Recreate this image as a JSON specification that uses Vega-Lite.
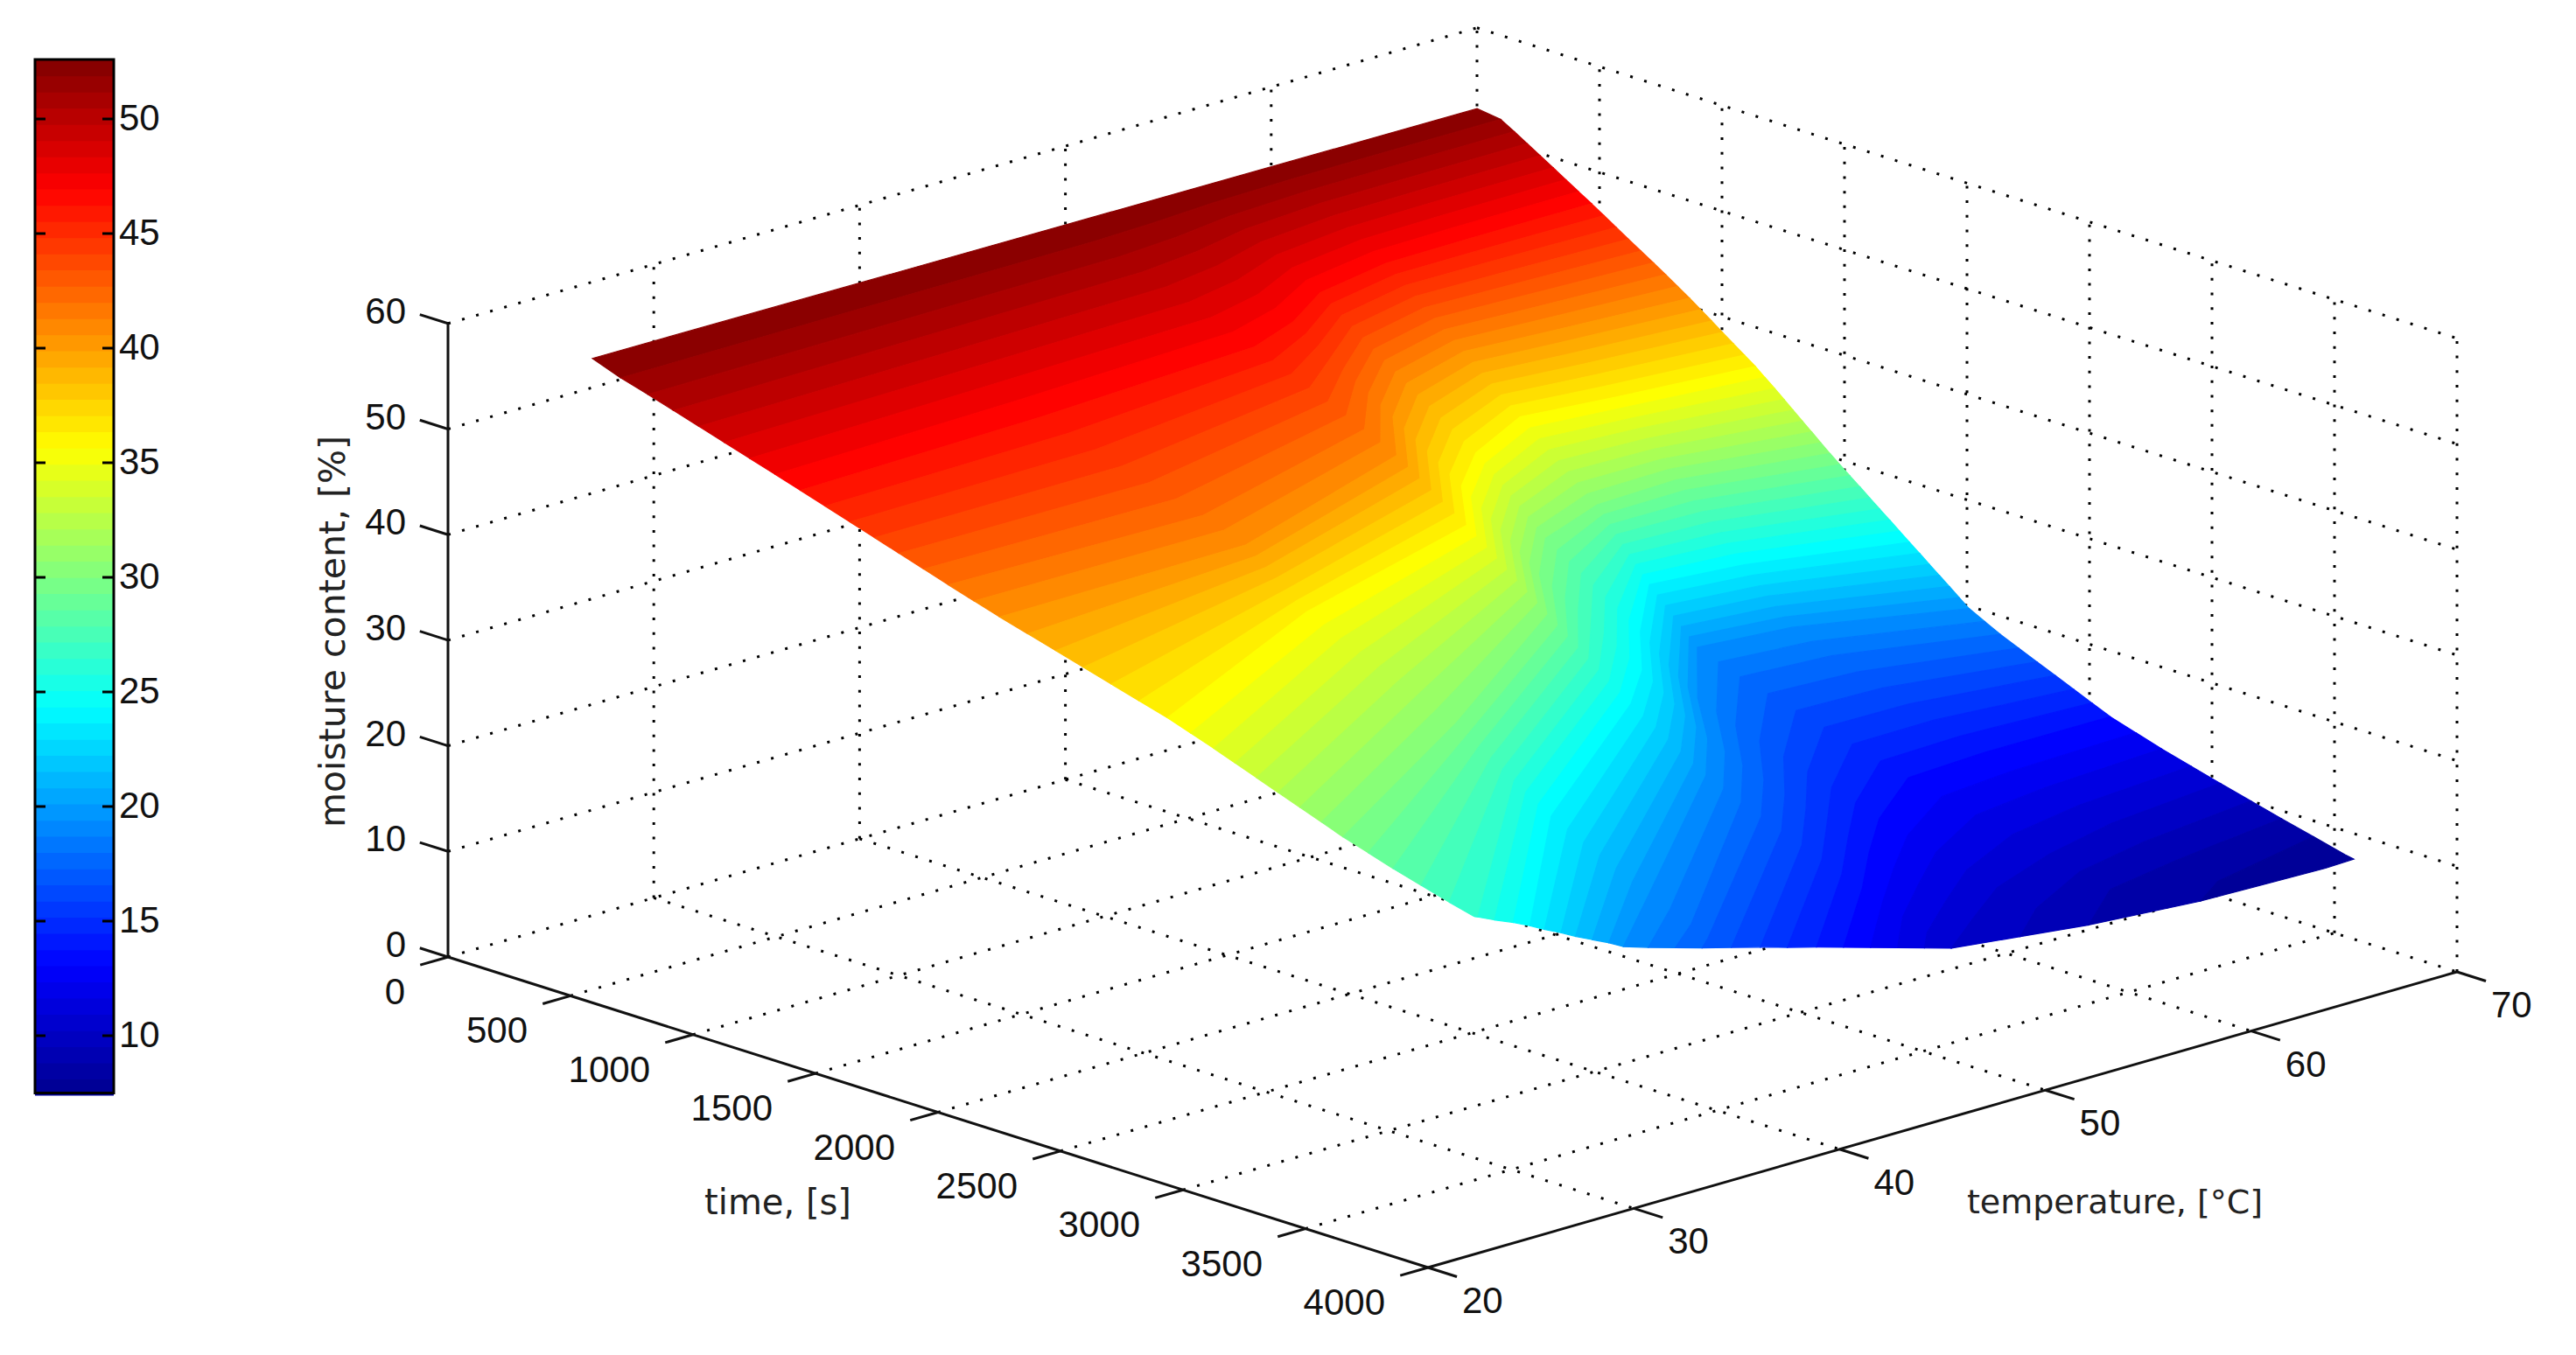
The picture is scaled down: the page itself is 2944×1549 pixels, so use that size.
{
"$schema":"https://vega.github.io/schema/vega-lite/v6.json",
"autosize":{"type":"fit","contains":"padding"},
"padding":0,
"width":2944,
"height":1549,
"background":"white",
"config":{"view":{"stroke":null}},
"datasets":{
"lines":[
{"kind":"grid","t":0,"T":20,"z":0,"t2":0,"T2":70,"z2":0},
{"kind":"grid","t":500,"T":20,"z":0,"t2":500,"T2":70,"z2":0},
{"kind":"grid","t":1000,"T":20,"z":0,"t2":1000,"T2":70,"z2":0},
{"kind":"grid","t":1500,"T":20,"z":0,"t2":1500,"T2":70,"z2":0},
{"kind":"grid","t":2000,"T":20,"z":0,"t2":2000,"T2":70,"z2":0},
{"kind":"grid","t":2500,"T":20,"z":0,"t2":2500,"T2":70,"z2":0},
{"kind":"grid","t":3000,"T":20,"z":0,"t2":3000,"T2":70,"z2":0},
{"kind":"grid","t":3500,"T":20,"z":0,"t2":3500,"T2":70,"z2":0},
{"kind":"grid","t":0,"T":30,"z":0,"t2":4000,"T2":30,"z2":0},
{"kind":"grid","t":0,"T":40,"z":0,"t2":4000,"T2":40,"z2":0},
{"kind":"grid","t":0,"T":50,"z":0,"t2":4000,"T2":50,"z2":0},
{"kind":"grid","t":0,"T":60,"z":0,"t2":4000,"T2":60,"z2":0},
{"kind":"grid","t":0,"T":70,"z":0,"t2":4000,"T2":70,"z2":0},
{"kind":"grid","t":0,"T":30,"z":0,"t2":0,"T2":30,"z2":60},
{"kind":"grid","t":0,"T":40,"z":0,"t2":0,"T2":40,"z2":60},
{"kind":"grid","t":0,"T":50,"z":0,"t2":0,"T2":50,"z2":60},
{"kind":"grid","t":0,"T":60,"z":0,"t2":0,"T2":60,"z2":60},
{"kind":"grid","t":0,"T":70,"z":0,"t2":0,"T2":70,"z2":60},
{"kind":"grid","t":0,"T":20,"z":10,"t2":0,"T2":70,"z2":10},
{"kind":"grid","t":0,"T":20,"z":20,"t2":0,"T2":70,"z2":20},
{"kind":"grid","t":0,"T":20,"z":30,"t2":0,"T2":70,"z2":30},
{"kind":"grid","t":0,"T":20,"z":40,"t2":0,"T2":70,"z2":40},
{"kind":"grid","t":0,"T":20,"z":50,"t2":0,"T2":70,"z2":50},
{"kind":"grid","t":0,"T":20,"z":60,"t2":0,"T2":70,"z2":60},
{"kind":"grid","t":500,"T":70,"z":0,"t2":500,"T2":70,"z2":60},
{"kind":"grid","t":1000,"T":70,"z":0,"t2":1000,"T2":70,"z2":60},
{"kind":"grid","t":1500,"T":70,"z":0,"t2":1500,"T2":70,"z2":60},
{"kind":"grid","t":2000,"T":70,"z":0,"t2":2000,"T2":70,"z2":60},
{"kind":"grid","t":2500,"T":70,"z":0,"t2":2500,"T2":70,"z2":60},
{"kind":"grid","t":3000,"T":70,"z":0,"t2":3000,"T2":70,"z2":60},
{"kind":"grid","t":3500,"T":70,"z":0,"t2":3500,"T2":70,"z2":60},
{"kind":"grid","t":4000,"T":70,"z":0,"t2":4000,"T2":70,"z2":60},
{"kind":"grid","t":0,"T":70,"z":10,"t2":4000,"T2":70,"z2":10},
{"kind":"grid","t":0,"T":70,"z":20,"t2":4000,"T2":70,"z2":20},
{"kind":"grid","t":0,"T":70,"z":30,"t2":4000,"T2":70,"z2":30},
{"kind":"grid","t":0,"T":70,"z":40,"t2":4000,"T2":70,"z2":40},
{"kind":"grid","t":0,"T":70,"z":50,"t2":4000,"T2":70,"z2":50},
{"kind":"grid","t":0,"T":70,"z":60,"t2":4000,"T2":70,"z2":60},
{"kind":"axis","t":0,"T":20,"z":0,"t2":0,"T2":20,"z2":60},
{"kind":"axis","t":0,"T":20,"z":0,"t2":4000,"T2":20,"z2":0},
{"kind":"axis","t":4000,"T":20,"z":0,"t2":4000,"T2":70,"z2":0},
{"kind":"axis","t":0,"T":20,"z":0,"t2":-115,"T2":20,"z2":0},
{"kind":"axis","t":0,"T":20,"z":10,"t2":-115,"T2":20,"z2":10},
{"kind":"axis","t":0,"T":20,"z":20,"t2":-115,"T2":20,"z2":20},
{"kind":"axis","t":0,"T":20,"z":30,"t2":-115,"T2":20,"z2":30},
{"kind":"axis","t":0,"T":20,"z":40,"t2":-115,"T2":20,"z2":40},
{"kind":"axis","t":0,"T":20,"z":50,"t2":-115,"T2":20,"z2":50},
{"kind":"axis","t":0,"T":20,"z":60,"t2":-115,"T2":20,"z2":60},
{"kind":"axis","t":0,"T":20,"z":0,"t2":0,"T2":18.65,"z2":0},
{"kind":"axis","t":500,"T":20,"z":0,"t2":500,"T2":18.65,"z2":0},
{"kind":"axis","t":1000,"T":20,"z":0,"t2":1000,"T2":18.65,"z2":0},
{"kind":"axis","t":1500,"T":20,"z":0,"t2":1500,"T2":18.65,"z2":0},
{"kind":"axis","t":2000,"T":20,"z":0,"t2":2000,"T2":18.65,"z2":0},
{"kind":"axis","t":2500,"T":20,"z":0,"t2":2500,"T2":18.65,"z2":0},
{"kind":"axis","t":3000,"T":20,"z":0,"t2":3000,"T2":18.65,"z2":0},
{"kind":"axis","t":3500,"T":20,"z":0,"t2":3500,"T2":18.65,"z2":0},
{"kind":"axis","t":4000,"T":20,"z":0,"t2":4000,"T2":18.65,"z2":0},
{"kind":"axis","t":4000,"T":20,"z":0,"t2":4118,"T2":20,"z2":0},
{"kind":"axis","t":4000,"T":30,"z":0,"t2":4118,"T2":30,"z2":0},
{"kind":"axis","t":4000,"T":40,"z":0,"t2":4118,"T2":40,"z2":0},
{"kind":"axis","t":4000,"T":50,"z":0,"t2":4118,"T2":50,"z2":0},
{"kind":"axis","t":4000,"T":60,"z":0,"t2":4118,"T2":60,"z2":0},
{"kind":"axis","t":4000,"T":70,"z":0,"t2":4118,"T2":70,"z2":0}
],
"labels":[
{"axis":"z","t":0,"T":20,"z":0,"label":"0"},{"axis":"z","t":0,"T":20,"z":10,"label":"10"},{"axis":"z","t":0,"T":20,"z":20,"label":"20"},{"axis":"z","t":0,"T":20,"z":30,"label":"30"},{"axis":"z","t":0,"T":20,"z":40,"label":"40"},{"axis":"z","t":0,"T":20,"z":50,"label":"50"},{"axis":"z","t":0,"T":20,"z":60,"label":"60"},
{"axis":"time","t":0,"T":20,"z":0,"label":"0"},{"axis":"time","t":500,"T":20,"z":0,"label":"500"},{"axis":"time","t":1000,"T":20,"z":0,"label":"1000"},{"axis":"time","t":1500,"T":20,"z":0,"label":"1500"},{"axis":"time","t":2000,"T":20,"z":0,"label":"2000"},{"axis":"time","t":2500,"T":20,"z":0,"label":"2500"},{"axis":"time","t":3000,"T":20,"z":0,"label":"3000"},{"axis":"time","t":3500,"T":20,"z":0,"label":"3500"},{"axis":"time","t":4000,"T":20,"z":0,"label":"4000"},
{"axis":"temp","t":4000,"T":20,"z":0,"label":"20"},{"axis":"temp","t":4000,"T":30,"z":0,"label":"30"},{"axis":"temp","t":4000,"T":40,"z":0,"label":"40"},{"axis":"temp","t":4000,"T":50,"z":0,"label":"50"},{"axis":"temp","t":4000,"T":60,"z":0,"label":"60"},{"axis":"temp","t":4000,"T":70,"z":0,"label":"70"}
],
"surface":[
{"l":52.5,"T":26.95,"t":0,"m":52.8},{"l":52.5,"T":69.54,"t":0,"m":52.6},
{"l":51.75,"T":27,"t":112},{"l":51.75,"T":39,"t":106},{"l":51.75,"T":50,"t":100},{"l":51.75,"T":53,"t":89},{"l":51.75,"T":56,"t":69},{"l":51.75,"T":60,"t":59},{"l":51.75,"T":64,"t":57},{"l":51.75,"T":70,"t":57},
{"l":51,"T":27,"t":223},{"l":51,"T":39,"t":211},{"l":51,"T":50,"t":200},{"l":51,"T":53,"t":177},{"l":51,"T":56,"t":137},{"l":51,"T":60,"t":117},{"l":51,"T":64,"t":114},{"l":51,"T":70,"t":113},
{"l":50.25,"T":27,"t":328},{"l":50.25,"T":39,"t":310},{"l":50.25,"T":50,"t":294},{"l":50.25,"T":53,"t":260},{"l":50.25,"T":56,"t":202},{"l":50.25,"T":60,"t":172},{"l":50.25,"T":64,"t":168},{"l":50.25,"T":70,"t":166},
{"l":49.5,"T":27,"t":432},{"l":49.5,"T":39,"t":410},{"l":49.5,"T":50,"t":388},{"l":49.5,"T":53,"t":343},{"l":49.5,"T":56,"t":266},{"l":49.5,"T":60,"t":227},{"l":49.5,"T":64,"t":222},{"l":49.5,"T":70,"t":219},
{"l":48.75,"T":27,"t":536},{"l":48.75,"T":39,"t":508},{"l":48.75,"T":50,"t":482},{"l":48.75,"T":53,"t":426},{"l":48.75,"T":56,"t":330},{"l":48.75,"T":60,"t":282},{"l":48.75,"T":64,"t":275},{"l":48.75,"T":70,"t":272},
{"l":48,"T":27,"t":640},{"l":48,"T":39,"t":607},{"l":48,"T":50,"t":575},{"l":48,"T":53,"t":509},{"l":48,"T":56,"t":394},{"l":48,"T":60,"t":337},{"l":48,"T":64,"t":328},{"l":48,"T":70,"t":324},
{"l":47.25,"T":27,"t":744},{"l":47.25,"T":39,"t":710},{"l":47.25,"T":50,"t":662},{"l":47.25,"T":53,"t":582},{"l":47.25,"T":56,"t":452},{"l":47.25,"T":60,"t":387},{"l":47.25,"T":64,"t":379},{"l":47.25,"T":70,"t":376},
{"l":46.5,"T":27,"t":847},{"l":46.5,"T":39,"t":813},{"l":46.5,"T":50,"t":750},{"l":46.5,"T":53,"t":654},{"l":46.5,"T":56,"t":509},{"l":46.5,"T":60,"t":437},{"l":46.5,"T":64,"t":430},{"l":46.5,"T":70,"t":429},
{"l":45.75,"T":27,"t":948},{"l":45.75,"T":39,"t":923},{"l":45.75,"T":50,"t":825},{"l":45.75,"T":53,"t":706},{"l":45.75,"T":56,"t":553},{"l":45.75,"T":60,"t":477},{"l":45.75,"T":64,"t":475},{"l":45.75,"T":70,"t":480},
{"l":45,"T":27,"t":1049},{"l":45,"T":39,"t":1033},{"l":45,"T":50,"t":900},{"l":45,"T":53,"t":757},{"l":45,"T":56,"t":597},{"l":45,"T":60,"t":517},{"l":45,"T":64,"t":520},{"l":45,"T":70,"t":530},
{"l":44.25,"T":27,"t":1150},{"l":44.25,"T":39,"t":1143},{"l":44.25,"T":50,"t":975},{"l":44.25,"T":53,"t":808},{"l":44.25,"T":56,"t":640},{"l":44.25,"T":60,"t":557},{"l":44.25,"T":64,"t":565},{"l":44.25,"T":70,"t":580},
{"l":43.5,"T":27,"t":1250},{"l":43.5,"T":39,"t":1253},{"l":43.5,"T":50,"t":1050},{"l":43.5,"T":53,"t":859},{"l":43.5,"T":56,"t":684},{"l":43.5,"T":60,"t":597},{"l":43.5,"T":64,"t":610},{"l":43.5,"T":70,"t":631},
{"l":42.75,"T":27,"t":1351},{"l":42.75,"T":39,"t":1363},{"l":42.75,"T":50,"t":1125},{"l":42.75,"T":53,"t":910},{"l":42.75,"T":56,"t":728},{"l":42.75,"T":60,"t":637},{"l":42.75,"T":64,"t":655},{"l":42.75,"T":70,"t":682},
{"l":42,"T":27,"t":1452},{"l":42,"T":39,"t":1473},{"l":42,"T":50,"t":1200},{"l":42,"T":53,"t":962},{"l":42,"T":56,"t":772},{"l":42,"T":60,"t":677},{"l":42,"T":64,"t":700},{"l":42,"T":70,"t":732},
{"l":41.25,"T":27,"t":1557},{"l":41.25,"T":39,"t":1560},{"l":41.25,"T":50,"t":1266},{"l":41.25,"T":53,"t":1012},{"l":41.25,"T":56,"t":817},{"l":41.25,"T":60,"t":717},{"l":41.25,"T":64,"t":744},{"l":41.25,"T":70,"t":781},
{"l":40.5,"T":27,"t":1662},{"l":40.5,"T":39,"t":1648},{"l":40.5,"T":50,"t":1332},{"l":40.5,"T":53,"t":1061},{"l":40.5,"T":56,"t":862},{"l":40.5,"T":60,"t":756},{"l":40.5,"T":64,"t":788},{"l":40.5,"T":70,"t":830},
{"l":39.75,"T":27,"t":1776},{"l":39.75,"T":39,"t":1690},{"l":39.75,"T":50,"t":1380},{"l":39.75,"T":53,"t":1108},{"l":39.75,"T":56,"t":909},{"l":39.75,"T":60,"t":794},{"l":39.75,"T":64,"t":830},{"l":39.75,"T":70,"t":875},
{"l":39,"T":27,"t":1890},{"l":39,"T":39,"t":1731},{"l":39,"T":50,"t":1427},{"l":39,"T":53,"t":1155},{"l":39,"T":56,"t":956},{"l":39,"T":60,"t":832},{"l":39,"T":64,"t":871},{"l":39,"T":70,"t":920},
{"l":38.25,"T":27,"t":2004},{"l":38.25,"T":39,"t":1772},{"l":38.25,"T":50,"t":1475},{"l":38.25,"T":53,"t":1202},{"l":38.25,"T":56,"t":1003},{"l":38.25,"T":60,"t":870},{"l":38.25,"T":64,"t":912},{"l":38.25,"T":70,"t":964},
{"l":37.5,"T":27,"t":2118},{"l":37.5,"T":39,"t":1814},{"l":37.5,"T":50,"t":1522},{"l":37.5,"T":53,"t":1248},{"l":37.5,"T":56,"t":1050},{"l":37.5,"T":60,"t":909},{"l":37.5,"T":64,"t":954},{"l":37.5,"T":70,"t":1009},
{"l":36.75,"T":27,"t":2232},{"l":36.75,"T":39,"t":1856},{"l":36.75,"T":50,"t":1570},{"l":36.75,"T":53,"t":1294},{"l":36.75,"T":56,"t":1098},{"l":36.75,"T":60,"t":948},{"l":36.75,"T":64,"t":996},{"l":36.75,"T":70,"t":1054},
{"l":36,"T":27,"t":2347},{"l":36,"T":39,"t":1897},{"l":36,"T":50,"t":1618},{"l":36,"T":53,"t":1341},{"l":36,"T":56,"t":1145},{"l":36,"T":60,"t":986},{"l":36,"T":64,"t":1037},{"l":36,"T":70,"t":1099},
{"l":35.25,"T":27,"t":2442},{"l":35.25,"T":39,"t":1967},{"l":35.25,"T":50,"t":1660},{"l":35.25,"T":53,"t":1382},{"l":35.25,"T":56,"t":1183},{"l":35.25,"T":60,"t":1026},{"l":35.25,"T":64,"t":1070},{"l":35.25,"T":70,"t":1138},
{"l":34.5,"T":27,"t":2536},{"l":34.5,"T":39,"t":2037},{"l":34.5,"T":50,"t":1703},{"l":34.5,"T":53,"t":1424},{"l":34.5,"T":56,"t":1221},{"l":34.5,"T":60,"t":1065},{"l":34.5,"T":64,"t":1103},{"l":34.5,"T":70,"t":1178},
{"l":33.75,"T":27,"t":2624},{"l":33.75,"T":39,"t":2116},{"l":33.75,"T":50,"t":1744},{"l":33.75,"T":53,"t":1463},{"l":33.75,"T":56,"t":1256},{"l":33.75,"T":60,"t":1104},{"l":33.75,"T":64,"t":1133},{"l":33.75,"T":70,"t":1216},
{"l":33,"T":27,"t":2712},{"l":33,"T":39,"t":2195},{"l":33,"T":50,"t":1785},{"l":33,"T":53,"t":1502},{"l":33,"T":56,"t":1290},{"l":33,"T":60,"t":1144},{"l":33,"T":64,"t":1163},{"l":33,"T":70,"t":1253},
{"l":32.25,"T":27,"t":2800},{"l":32.25,"T":39,"t":2274},{"l":32.25,"T":50,"t":1826},{"l":32.25,"T":53,"t":1542},{"l":32.25,"T":56,"t":1325},{"l":32.25,"T":60,"t":1184},{"l":32.25,"T":64,"t":1194},{"l":32.25,"T":70,"t":1291},
{"l":31.5,"T":27,"t":2889},{"l":31.5,"T":39,"t":2353},{"l":31.5,"T":50,"t":1868},{"l":31.5,"T":53,"t":1581},{"l":31.5,"T":56,"t":1360},{"l":31.5,"T":60,"t":1223},{"l":31.5,"T":64,"t":1224},{"l":31.5,"T":70,"t":1329},
{"l":30.75,"T":27,"t":2977},{"l":30.75,"T":39,"t":2432},{"l":30.75,"T":50,"t":1909},{"l":30.75,"T":53,"t":1620},{"l":30.75,"T":56,"t":1395},{"l":30.75,"T":60,"t":1262},{"l":30.75,"T":64,"t":1254},{"l":30.75,"T":70,"t":1366},
{"l":30,"T":27,"t":3065},{"l":30,"T":39,"t":2510},{"l":30,"T":50,"t":1950},{"l":30,"T":53,"t":1660},{"l":30,"T":56,"t":1430},{"l":30,"T":60,"t":1302},{"l":30,"T":64,"t":1285},{"l":30,"T":70,"t":1404},
{"l":29.25,"T":27,"t":3168},{"l":29.25,"T":39,"t":2557},{"l":29.25,"T":50,"t":1992},{"l":29.25,"T":53,"t":1713},{"l":29.25,"T":56,"t":1479},{"l":29.25,"T":60,"t":1328},{"l":29.25,"T":64,"t":1320},{"l":29.25,"T":70,"t":1444},
{"l":28.5,"T":27,"t":3270},{"l":28.5,"T":39,"t":2604},{"l":28.5,"T":50,"t":2033},{"l":28.5,"T":53,"t":1766},{"l":28.5,"T":56,"t":1528},{"l":28.5,"T":60,"t":1354},{"l":28.5,"T":64,"t":1355},{"l":28.5,"T":70,"t":1485},
{"l":27.75,"T":27,"t":3385},{"l":27.75,"T":39,"t":2652},{"l":27.75,"T":50,"t":2075},{"l":27.75,"T":53,"t":1819},{"l":27.75,"T":56,"t":1577},{"l":27.75,"T":60,"t":1380},{"l":27.75,"T":64,"t":1390},{"l":27.75,"T":70,"t":1526},
{"l":27,"T":27,"t":3500},{"l":27,"T":39,"t":2699},{"l":27,"T":50,"t":2117},{"l":27,"T":53,"t":1872},{"l":27,"T":56,"t":1626},{"l":27,"T":60,"t":1407},{"l":27,"T":64,"t":1425},{"l":27,"T":70,"t":1566},
{"l":26.25,"T":27,"t":3600,"m":26.4},{"l":26.25,"T":27.2,"t":3600},{"l":26.25,"T":39,"t":2746},{"l":26.25,"T":50,"t":2159},{"l":26.25,"T":53,"t":1925},{"l":26.25,"T":56,"t":1676},{"l":26.25,"T":60,"t":1434},{"l":26.25,"T":64,"t":1460},{"l":26.25,"T":70,"t":1607},
{"l":25.5,"T":28,"t":3600},{"l":25.5,"T":39,"t":2793},{"l":25.5,"T":50,"t":2201},{"l":25.5,"T":53,"t":1978},{"l":25.5,"T":56,"t":1725},{"l":25.5,"T":60,"t":1460},{"l":25.5,"T":64,"t":1494},{"l":25.5,"T":70,"t":1648},
{"l":24.75,"T":28.9,"t":3600},{"l":24.75,"T":39,"t":2845},{"l":24.75,"T":50,"t":2245},{"l":24.75,"T":53,"t":2030},{"l":24.75,"T":56,"t":1772},{"l":24.75,"T":60,"t":1488},{"l":24.75,"T":64,"t":1528},{"l":24.75,"T":70,"t":1688},
{"l":24,"T":29.7,"t":3600},{"l":24,"T":39,"t":2897},{"l":24,"T":50,"t":2289},{"l":24,"T":53,"t":2081},{"l":24,"T":56,"t":1818},{"l":24,"T":60,"t":1515},{"l":24,"T":64,"t":1563},{"l":24,"T":70,"t":1729},
{"l":23.25,"T":30.4,"t":3600},{"l":23.25,"T":39,"t":2964},{"l":23.25,"T":50,"t":2340},{"l":23.25,"T":53,"t":2126},{"l":23.25,"T":56,"t":1857},{"l":23.25,"T":60,"t":1548},{"l":23.25,"T":64,"t":1596},{"l":23.25,"T":70,"t":1770},
{"l":22.5,"T":31.2,"t":3600},{"l":22.5,"T":39,"t":3030},{"l":22.5,"T":50,"t":2391},{"l":22.5,"T":53,"t":2170},{"l":22.5,"T":56,"t":1896},{"l":22.5,"T":60,"t":1581},{"l":22.5,"T":64,"t":1628},{"l":22.5,"T":70,"t":1810},
{"l":21.75,"T":31.9,"t":3600},{"l":21.75,"T":39,"t":3096},{"l":21.75,"T":50,"t":2442},{"l":21.75,"T":53,"t":2214},{"l":21.75,"T":56,"t":1935},{"l":21.75,"T":60,"t":1614},{"l":21.75,"T":64,"t":1660},{"l":21.75,"T":70,"t":1851},
{"l":21,"T":32.7,"t":3600},{"l":21,"T":39,"t":3163},{"l":21,"T":50,"t":2494},{"l":21,"T":53,"t":2258},{"l":21,"T":56,"t":1974},{"l":21,"T":60,"t":1646},{"l":21,"T":64,"t":1693},{"l":21,"T":70,"t":1892},
{"l":20.25,"T":33.5,"t":3600},{"l":20.25,"T":39,"t":3230},{"l":20.25,"T":50,"t":2545},{"l":20.25,"T":53,"t":2303},{"l":20.25,"T":56,"t":2013},{"l":20.25,"T":60,"t":1678},{"l":20.25,"T":64,"t":1726},{"l":20.25,"T":70,"t":1932},
{"l":19.5,"T":34.2,"t":3600},{"l":19.5,"T":39,"t":3296},{"l":19.5,"T":50,"t":2596},{"l":19.5,"T":53,"t":2348},{"l":19.5,"T":56,"t":2052},{"l":19.5,"T":60,"t":1711},{"l":19.5,"T":64,"t":1758},{"l":19.5,"T":70,"t":1973},
{"l":18.75,"T":35.4,"t":3600},{"l":18.75,"T":39,"t":3383},{"l":18.75,"T":50,"t":2668},{"l":18.75,"T":53,"t":2420},{"l":18.75,"T":56,"t":2130},{"l":18.75,"T":60,"t":1798},{"l":18.75,"T":64,"t":1839},{"l":18.75,"T":70,"t":2036},
{"l":18,"T":36.7,"t":3600},{"l":18,"T":39,"t":3470},{"l":18,"T":50,"t":2740},{"l":18,"T":53,"t":2492},{"l":18,"T":56,"t":2208},{"l":18,"T":60,"t":1886},{"l":18,"T":64,"t":1920},{"l":18,"T":70,"t":2100},
{"l":17.25,"T":38,"t":3600},{"l":17.25,"T":39,"t":3540},{"l":17.25,"T":50,"t":2822},{"l":17.25,"T":53,"t":2578},{"l":17.25,"T":56,"t":2306},{"l":17.25,"T":60,"t":2000},{"l":17.25,"T":64,"t":2025},{"l":17.25,"T":70,"t":2175},
{"l":16.5,"T":39.4,"t":3600},{"l":16.5,"T":50,"t":2905},{"l":16.5,"T":53,"t":2664},{"l":16.5,"T":56,"t":2404},{"l":16.5,"T":60,"t":2115},{"l":16.5,"T":64,"t":2130},{"l":16.5,"T":70,"t":2250},
{"l":15.75,"T":40.8,"t":3600},{"l":15.75,"T":50,"t":2988},{"l":15.75,"T":53,"t":2750},{"l":15.75,"T":56,"t":2502},{"l":15.75,"T":60,"t":2230},{"l":15.75,"T":64,"t":2235},{"l":15.75,"T":70,"t":2325},
{"l":15,"T":42.1,"t":3600},{"l":15,"T":50,"t":3070},{"l":15,"T":53,"t":2836},{"l":15,"T":56,"t":2600},{"l":15,"T":60,"t":2345},{"l":15,"T":64,"t":2340},{"l":15,"T":70,"t":2400},
{"l":14.25,"T":43.5,"t":3600},{"l":14.25,"T":50,"t":3152},{"l":14.25,"T":53,"t":2922},{"l":14.25,"T":56,"t":2698},{"l":14.25,"T":60,"t":2460},{"l":14.25,"T":64,"t":2445},{"l":14.25,"T":70,"t":2475},
{"l":13.5,"T":44.8,"t":3600},{"l":13.5,"T":50,"t":3235},{"l":13.5,"T":53,"t":3008},{"l":13.5,"T":56,"t":2795},{"l":13.5,"T":60,"t":2574},{"l":13.5,"T":64,"t":2550},{"l":13.5,"T":70,"t":2550},
{"l":12.75,"T":46.1,"t":3600},{"l":12.75,"T":50,"t":3318},{"l":12.75,"T":53,"t":3109},{"l":12.75,"T":56,"t":2911},{"l":12.75,"T":60,"t":2712},{"l":12.75,"T":64,"t":2674},{"l":12.75,"T":70,"t":2655},
{"l":12,"T":47.4,"t":3600},{"l":12,"T":50,"t":3400},{"l":12,"T":53,"t":3210},{"l":12,"T":56,"t":3027},{"l":12,"T":60,"t":2850},{"l":12,"T":64,"t":2797},{"l":12,"T":70,"t":2760},
{"l":11.25,"T":48.7,"t":3600},{"l":11.25,"T":50,"t":3500},{"l":11.25,"T":53,"t":3322},{"l":11.25,"T":56,"t":3152},{"l":11.25,"T":60,"t":3000},{"l":11.25,"T":64,"t":2930},{"l":11.25,"T":70,"t":2880},
{"l":10.5,"T":50,"t":3600},{"l":10.5,"T":53,"t":3435},{"l":10.5,"T":56,"t":3277},{"l":10.5,"T":60,"t":3150},{"l":10.5,"T":64,"t":3062},{"l":10.5,"T":70,"t":3000},
{"l":9.75,"T":53.3,"t":3600},{"l":9.75,"T":56,"t":3438},{"l":9.75,"T":60,"t":3275},{"l":9.75,"T":64,"t":3196},{"l":9.75,"T":70,"t":3125},
{"l":9,"T":56.6,"t":3600},{"l":9,"T":60,"t":3400},{"l":9,"T":64,"t":3330},{"l":9,"T":70,"t":3250},
{"l":8.25,"T":62,"t":3600},{"l":8.25,"T":64,"t":3500},{"l":8.25,"T":70,"t":3381},
{"l":7.5,"T":68,"t":3600,"m":8},{"l":7.5,"T":70,"t":3546,"m":7.34},{"l":7.5,"T":70,"t":3510}
],
"bar":[{"shade":7.75},{"shade":8.46},{"shade":9.16},{"shade":9.87},{"shade":10.57},{"shade":11.28},{"shade":11.99},{"shade":12.69},{"shade":13.4},{"shade":14.1},{"shade":14.81},{"shade":15.52},{"shade":16.22},{"shade":16.93},{"shade":17.63},{"shade":18.34},{"shade":19.05},{"shade":19.75},{"shade":20.46},{"shade":21.16},{"shade":21.87},{"shade":22.58},{"shade":23.28},{"shade":23.99},{"shade":24.69},{"shade":25.4},{"shade":26.11},{"shade":26.81},{"shade":27.52},{"shade":28.22},{"shade":28.93},{"shade":29.64},{"shade":30.34},{"shade":31.05},{"shade":31.75},{"shade":32.46},{"shade":33.17},{"shade":33.87},{"shade":34.58},{"shade":35.28},{"shade":35.99},{"shade":36.7},{"shade":37.4},{"shade":38.11},{"shade":38.81},{"shade":39.52},{"shade":40.23},{"shade":40.93},{"shade":41.64},{"shade":42.34},{"shade":43.05},{"shade":43.76},{"shade":44.46},{"shade":45.17},{"shade":45.87},{"shade":46.58},{"shade":47.29},{"shade":47.99},{"shade":48.7},{"shade":49.4},{"shade":50.11},{"shade":50.82},{"shade":51.52},{"shade":52.23}],
"barticks":[{"m":10},{"m":15},{"m":20},{"m":25},{"m":30},{"m":35},{"m":40},{"m":45},{"m":50}],
"barframe":[{"top":52.6,"bottom":7.5}]
},
"encoding":{
"x":{"field":"px","type":"quantitative","scale":{"domain":[0,2944],"nice":false,"zero":false},"axis":null},
"y":{"field":"py","type":"quantitative","scale":{"domain":[1549,0],"nice":false,"zero":false},"axis":null}
},
"layer":[
{"data":{"name":"lines"},
"transform":[{"filter":"datum.kind=='grid'"},
{"calculate":"512+0.28*datum.t+23.52*(datum.T-20)","as":"px"},
{"calculate":"1094+0.08875*datum.t-6.76*(datum.T-20)-12.07*datum.z","as":"py"},
{"calculate":"512+0.28*datum.t2+23.52*(datum.T2-20)","as":"px2"},
{"calculate":"1094+0.08875*datum.t2-6.76*(datum.T2-20)-12.07*datum.z2","as":"py2"}],
"mark":{"type":"rule","color":"black","strokeWidth":3,"strokeDash":[3,13.7]},
"encoding":{"x2":{"field":"px2"},"y2":{"field":"py2"}}},
{"data":{"name":"lines"},
"transform":[{"filter":"datum.kind=='axis'"},
{"calculate":"512+0.28*datum.t+23.52*(datum.T-20)","as":"px"},
{"calculate":"1094+0.08875*datum.t-6.76*(datum.T-20)-12.07*datum.z","as":"py"},
{"calculate":"512+0.28*datum.t2+23.52*(datum.T2-20)","as":"px2"},
{"calculate":"1094+0.08875*datum.t2-6.76*(datum.T2-20)-12.07*datum.z2","as":"py2"}],
"mark":{"type":"rule","color":"#111","strokeWidth":3},
"encoding":{"x2":{"field":"px2"},"y2":{"field":"py2"}}},
{"data":{"name":"surface"},
"transform":[
{"window":[{"op":"row_number","as":"i"}]},
{"calculate":"round((52.5-datum.l)/0.75)","as":"k"},
{"calculate":"[datum.k-1,datum.k]","as":"band"},
{"flatten":["band"]},
{"filter":"datum.band>=0 && datum.band<=59"},
{"calculate":"datum.band==datum.k ? datum.i : 100000-datum.i","as":"seq"},
{"calculate":"52.125-0.75*datum.band","as":"shade"},
{"calculate":"512+0.2795*datum.t+23.74*(datum.T-20)","as":"px"},
{"calculate":"1094+0.08875*datum.t-6.76*(datum.T-20)-12.07*(datum.m||datum.l)","as":"py"}],
"mark":{"type":"line","interpolate":"linear-closed","strokeWidth":1.2},
"encoding":{
"detail":{"field":"band","type":"nominal"},
"order":{"field":"seq","type":"quantitative"},
"fill":{"field":"shade","type":"quantitative","legend":null,"scale":{"domain":[7.4,13.05,24.35,35.65,46.95,52.6],"range":["#00008f","#0000ff","#00ffff","#ffff00","#ff0000","#800000"],"interpolate":"rgb"}},
"stroke":{"field":"shade","type":"quantitative","legend":null,"scale":{"domain":[7.4,13.05,24.35,35.65,46.95,52.6],"range":["#00008f","#0000ff","#00ffff","#ffff00","#ff0000","#800000"],"interpolate":"rgb"}}
}},
{"data":{"name":"labels"},
"transform":[{"filter":"datum.axis=='z'"},
{"calculate":"512+0.28*datum.t+23.52*(datum.T-20)","as":"px"},
{"calculate":"1094+0.08875*datum.t-6.76*(datum.T-20)-12.07*datum.z","as":"py"}],
"mark":{"type":"text","font":"Liberation Sans","fontSize":42,"align":"right","baseline":"middle","dx":-48,"dy":-13,"color":"#111"},
"encoding":{"text":{"field":"label"}}},
{"data":{"name":"labels"},
"transform":[{"filter":"datum.axis=='time'"},
{"calculate":"512+0.28*datum.t+23.52*(datum.T-20)","as":"px"},
{"calculate":"1094+0.08875*datum.t-6.76*(datum.T-20)-12.07*datum.z","as":"py"}],
"mark":{"type":"text","font":"Liberation Sans","fontSize":42,"align":"right","baseline":"middle","dx":-49,"dy":41,"color":"#111"},
"encoding":{"text":{"field":"label"}}},
{"data":{"name":"labels"},
"transform":[{"filter":"datum.axis=='temp'"},
{"calculate":"512+0.28*datum.t+23.52*(datum.T-20)","as":"px"},
{"calculate":"1094+0.08875*datum.t-6.76*(datum.T-20)-12.07*datum.z","as":"py"}],
"mark":{"type":"text","font":"Liberation Sans","fontSize":42,"align":"left","baseline":"middle","dx":39,"dy":39,"color":"#111"},
"encoding":{"text":{"field":"label"}}},
{"data":{"values":[{"title":"moisture content, [%]"}]},
"mark":{"type":"text","font":"DejaVu Sans","fontSize":41,"angle":270,"align":"center","baseline":"middle","color":"#222"},
"encoding":{"x":{"value":382},"y":{"value":722},"text":{"field":"title"}}},
{"data":{"values":[{"title":"time, [s]"}]},
"mark":{"type":"text","font":"DejaVu Sans","fontSize":40,"align":"center","baseline":"middle","color":"#222"},
"encoding":{"x":{"value":889},"y":{"value":1376},"text":{"field":"title"}}},
{"data":{"values":[{"title":"temperature, [°C]"}]},
"mark":{"type":"text","font":"DejaVu Sans","fontSize":38,"align":"center","baseline":"middle","color":"#222"},
"encoding":{"x":{"value":2417},"y":{"value":1376},"text":{"field":"title"}}},
{"data":{"name":"bar"},
"transform":[{"calculate":"136+(50-datum.shade)*26.2-9.6","as":"py"},{"calculate":"136+(50-datum.shade)*26.2+9.6","as":"py2"}],
"mark":{"type":"rect"},
"encoding":{"x":{"value":40},"x2":{"value":130},"y2":{"field":"py2"},
"fill":{"field":"shade","type":"quantitative","legend":null,"scale":{"domain":[7.4,13.05,24.35,35.65,46.95,52.6],"range":["#00008f","#0000ff","#00ffff","#ffff00","#ff0000","#800000"],"interpolate":"rgb"}}}},
{"data":{"name":"barframe"},
"transform":[{"calculate":"136+(50-datum.top)*26.2","as":"py"},{"calculate":"136+(50-datum.bottom)*26.2","as":"py2"}],
"mark":{"type":"rect","fillOpacity":0,"stroke":"black","strokeWidth":3},
"encoding":{"x":{"value":40},"x2":{"value":130},"y2":{"field":"py2"}}},
{"data":{"name":"barticks"},
"transform":[{"calculate":"136+(50-datum.m)*26.2","as":"py"}],
"mark":{"type":"rule","color":"black","strokeWidth":3},
"encoding":{"x":{"value":40},"x2":{"value":52}}},
{"data":{"name":"barticks"},
"transform":[{"calculate":"136+(50-datum.m)*26.2","as":"py"}],
"mark":{"type":"rule","color":"black","strokeWidth":3},
"encoding":{"x":{"value":117},"x2":{"value":130}}},
{"data":{"name":"barticks"},
"transform":[{"calculate":"136+(50-datum.m)*26.2","as":"py"}],
"mark":{"type":"text","font":"Liberation Sans","fontSize":42,"align":"left","baseline":"middle","color":"#111"},
"encoding":{"x":{"value":136},"text":{"field":"m","type":"quantitative"}}}
]
}
